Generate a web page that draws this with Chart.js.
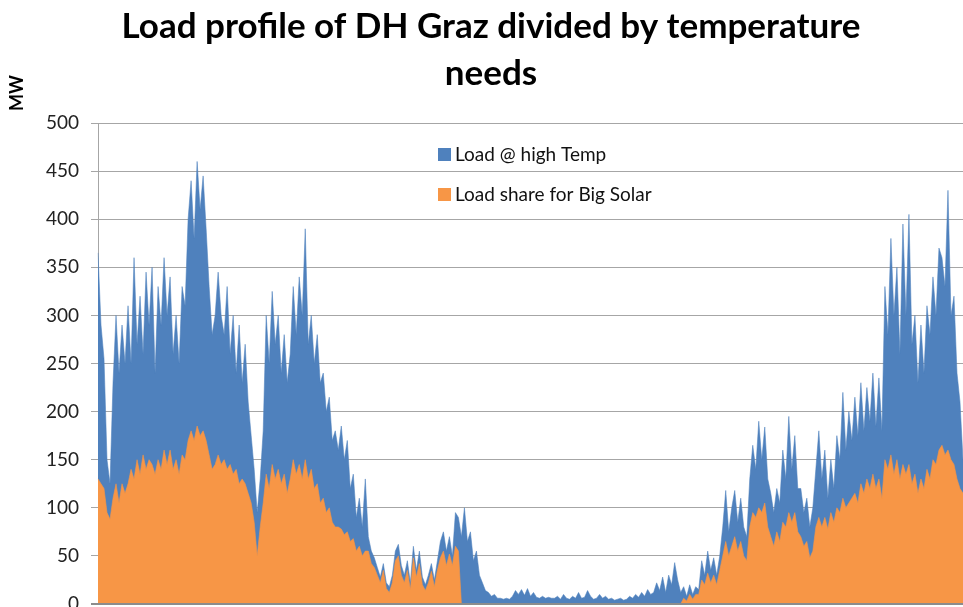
<!DOCTYPE html>
<html>
<head>
<meta charset="utf-8">
<script src="https://cdn.jsdelivr.net/npm/chart.js@4.4.1/dist/chart.umd.min.js"></script>
<style>
  body { margin: 0; background: #fff; }
  #wrap { width: 963px; height: 607px; }
</style>
</head>
<body>
<div id="wrap"><canvas id="load" width="963" height="607"></canvas></div>
<script>
// total load (top of the blue area), MW, one sample every ~3 px of the year
var totalLoad = [
  365,290,255,150,125,230,300,240,290,250,
  310,250,360,270,320,260,345,290,350,240,
  330,290,360,300,340,260,300,250,330,310,
  400,440,380,460,410,445,390,330,280,300,
  345,300,280,330,260,300,240,290,230,270,
  210,175,140,95,130,180,300,250,325,270,
  300,240,280,230,260,330,280,340,300,390,
  270,300,250,280,230,240,200,215,170,180,
  160,185,150,170,120,135,90,110,80,130,
  70,55,48,38,28,42,22,18,30,55,
  62,40,30,45,22,60,35,55,28,20,
  30,42,25,45,65,75,55,70,50,95,
  90,70,100,65,75,45,55,30,22,14,
  12,8,10,6,6,5,6,5,8,14,
  10,15,9,16,8,12,7,6,8,6,
  7,6,6,8,5,10,6,5,8,6,
  12,6,7,14,8,5,6,10,6,8,
  5,6,4,5,6,4,5,8,6,10,
  7,12,8,15,10,12,22,14,28,12,
  30,20,43,25,12,18,8,20,10,18,
  15,45,30,55,35,48,30,50,80,118,
  75,100,118,85,110,80,70,130,165,140,
  190,150,184,130,115,95,120,105,160,130,
  195,140,175,120,120,95,110,80,100,140,
  180,130,160,110,150,120,175,150,220,160,
  200,170,215,175,230,180,225,190,240,185,
  235,180,330,280,380,300,350,260,395,300,
  405,270,300,230,290,240,310,280,340,300,
  370,360,330,430,300,320,240,210,150
];

// part of the load that Big Solar can cover (orange area), MW
var solarShare = [
  130,125,120,95,88,110,125,105,125,115,
  125,140,130,150,135,155,140,150,145,135,
  150,140,160,145,160,140,150,135,155,150,
  170,180,170,185,175,180,170,155,140,145,
  155,145,150,140,145,135,140,125,130,125,
  115,105,85,50,80,105,135,120,145,130,
  140,125,135,115,130,150,135,145,130,150,
  130,140,120,125,105,110,95,100,85,80,
  80,78,72,75,65,68,55,60,50,55,
  55,42,38,30,22,35,16,12,22,45,
  50,30,22,35,15,48,28,42,20,14,
  22,34,18,35,48,55,40,52,40,60,
  55,0,0,0,0,0,0,0,0,0,
  0,0,0,0,0,0,0,0,0,0,
  0,0,0,0,0,0,0,0,0,0,
  0,0,0,0,0,0,0,0,0,0,
  0,0,0,0,0,0,0,0,0,0,
  0,0,0,0,0,0,0,0,0,0,
  0,0,0,0,0,0,0,0,0,0,
  0,0,0,0,0,6,3,10,5,10,
  10,25,20,32,22,30,20,35,50,65,
  50,60,70,55,65,50,45,80,95,90,
  100,95,105,80,70,60,75,65,85,80,
  95,85,95,75,70,60,65,48,55,80,
  90,80,90,78,95,85,100,95,110,100,
  105,110,115,105,125,115,130,120,135,120,
  130,110,150,140,155,135,150,130,145,135,
  145,125,135,115,130,120,140,130,150,145,
  160,165,155,160,150,145,130,120,115
];

var yTicks = [0, 50, 100, 150, 200, 250, 300, 350, 400, 450, 500];
var seriesNames = ['Load @ high Temp', 'Load share for Big Solar'];
var titleLines = ['Load profile of DH Graz divided by temperature', 'needs'];

var blue = '#4F81BD';
var orange = '#F79646';

var samples = totalLoad.map(function (v, i) { return i; });

// title, MW label and the legend are drawn by hand (excel-like placement)
var decorations = {
  id: 'decorations',
  afterDraw: function (chart) {
    var ctx = chart.ctx;
    var area = chart.chartArea;
    ctx.save();
    // bottom axis line
    ctx.strokeStyle = '#8c8c8c';
    ctx.lineWidth = 2;
    ctx.beginPath();
    ctx.moveTo(91, area.bottom);
    ctx.lineTo(area.right, area.bottom);
    ctx.stroke();

    ctx.fillStyle = '#000';
    ctx.textAlign = 'center';
    ctx.textBaseline = 'alphabetic';
    ctx.font = 'bold 35px Lato';
    var w = ctx.measureText(titleLines[0]).width;
    var sx = Math.min(1, 762 / w);
    ctx.save();
    ctx.translate(491, 0);
    ctx.scale(sx, 1);
    ctx.fillText(titleLines[0], 0, 38);
    ctx.fillText(titleLines[1], 0, 85);
    ctx.restore();

    ctx.save();
    ctx.translate(23, 93);
    ctx.rotate(-Math.PI / 2);
    ctx.font = 'bold 18px Lato';
    ctx.fillText('MW', 0, 0);
    ctx.restore();

    ctx.textAlign = 'left';
    ctx.textBaseline = 'middle';
    ctx.font = '19px Lato';
    ctx.fillStyle = blue;
    ctx.fillRect(438, 148, 13, 13);
    ctx.fillStyle = orange;
    ctx.fillRect(438, 188, 13, 13);
    ctx.fillStyle = '#111';
    ctx.fillText(seriesNames[0], 455, 155);
    ctx.fillText(seriesNames[1], 455, 195);
    ctx.restore();
  }
};

new Chart(document.getElementById('load'), {
  type: 'line',
  data: {
    labels: samples,
    datasets: [{
      label: seriesNames[0],
      data: totalLoad,
      fill: 'origin',
      backgroundColor: blue,
      borderColor: 'rgba(79,129,189,0.55)',
      borderWidth: 1,
      pointRadius: 0,
      tension: 0,
      order: 1
    }, {
      label: seriesNames[1],
      data: solarShare,
      fill: 'origin',
      backgroundColor: orange,
      borderColor: 'rgba(247,150,70,0.6)',
      borderWidth: 1,
      pointRadius: 0,
      tension: 0,
      order: 0
    }]
  },
  options: {
    responsive: false,
    animation: false,
    layout: { padding: { top: 123, bottom: 3, left: 0, right: 0 } },
    plugins: {
      legend: { display: false },
      title: { display: false },
      tooltip: { enabled: false }
    },
    scales: {
      x: {
        display: false,
        offset: false
      },
      y: {
        min: 0,
        max: 500,
        afterBuildTicks: function (scale) {
          scale.ticks = yTicks.map(function (v) { return { value: v }; });
        },
        ticks: {
          padding: 12,
          color: '#222',
          font: { family: 'Lato', size: 19 }
        },
        grid: { color: '#a6a6a6', lineWidth: 1, tickLength: 7 },
        border: { color: '#a6a6a6', width: 1 },
        afterFit: function (scale) {
          scale.width = 98;
          scale.paddingBottom = 0;
          scale.paddingTop = 0;
        }
      }
    }
  },
  plugins: [decorations]
});
</script>
</body>
</html>
